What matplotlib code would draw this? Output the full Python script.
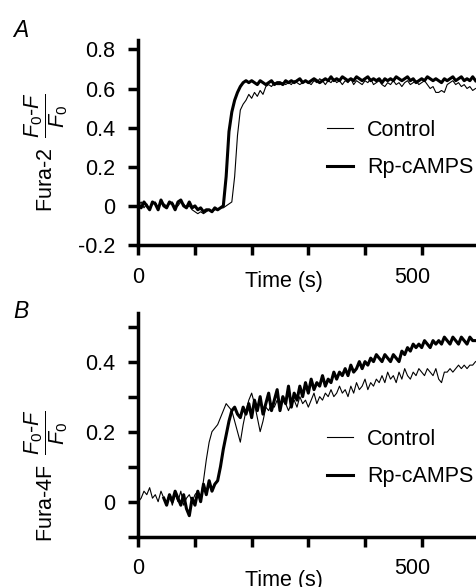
import numpy as np
import matplotlib
matplotlib.use("Agg")
import matplotlib.pyplot as plt
from matplotlib import transforms

plt.rcParams['font.family'] = ['Liberation Sans', 'DejaVu Sans']
plt.rcParams['mathtext.fontset'] = 'custom'
plt.rcParams['mathtext.rm'] = 'Liberation Sans'
plt.rcParams['mathtext.it'] = 'Liberation Sans:italic'
plt.rcParams['mathtext.bf'] = 'Liberation Sans:bold'

FS = 15.5

# ---------------- data ----------------
time_a = np.arange(0, 600, 5)
fura2_rp = [
    0.01, -0.01, 0.02, 0.00, -0.02, 0.02, 0.01, -0.02, 0.03, 0.00,
    -0.01, 0.02, 0.01, -0.02, 0.02, 0.03, 0.00, -0.01, 0.02, -0.01,
    0.00, -0.02, -0.01, -0.03, -0.02, -0.02, -0.03, -0.01, -0.02, -0.01,
    0.00, 0.15, 0.38, 0.48, 0.54, 0.58, 0.61, 0.63, 0.64, 0.63,
    0.64, 0.63, 0.62, 0.64, 0.63, 0.62, 0.63, 0.64, 0.62, 0.63,
    0.63, 0.62, 0.64, 0.63, 0.64, 0.63, 0.64, 0.65, 0.63, 0.64,
    0.63, 0.64, 0.65, 0.64, 0.63, 0.64, 0.65, 0.64, 0.66, 0.64,
    0.65, 0.64, 0.66, 0.65, 0.64, 0.65, 0.64, 0.66, 0.65, 0.64,
    0.65, 0.66, 0.64, 0.65, 0.64, 0.65, 0.63, 0.65, 0.64, 0.65,
    0.64, 0.66, 0.65, 0.64, 0.65, 0.66, 0.64, 0.65, 0.63, 0.64,
    0.65, 0.64, 0.66, 0.65, 0.64, 0.65, 0.64, 0.63, 0.65, 0.64,
    0.65, 0.66, 0.64, 0.65, 0.66, 0.64, 0.65, 0.64, 0.66, 0.64,
]
fura2_control = [
    0.00, 0.02, -0.01, 0.01, -0.02, 0.01, 0.02, -0.01, 0.02, 0.01,
    0.00, 0.01, 0.02, -0.01, 0.00, 0.02, 0.01, -0.01, 0.00, -0.02,
    -0.03, -0.04, -0.03, -0.04, -0.03, -0.02, -0.03, -0.02, -0.02, -0.01,
    -0.01, 0.00, 0.01, 0.02, 0.15, 0.36, 0.49, 0.52, 0.54, 0.57,
    0.55, 0.58, 0.56, 0.59, 0.57, 0.61, 0.62, 0.61, 0.63, 0.62,
    0.62, 0.63, 0.62, 0.63, 0.62, 0.64, 0.63, 0.62, 0.63, 0.64,
    0.63, 0.62, 0.64, 0.63, 0.65, 0.64, 0.62, 0.64, 0.63, 0.65,
    0.63, 0.64, 0.62, 0.64, 0.63, 0.65, 0.62, 0.64, 0.63, 0.62,
    0.64, 0.63, 0.65, 0.62, 0.63, 0.64, 0.62, 0.61, 0.63, 0.62,
    0.64, 0.62, 0.63, 0.61, 0.63, 0.64, 0.62, 0.63, 0.64, 0.62,
    0.63, 0.64, 0.62, 0.60, 0.61, 0.58, 0.58, 0.59, 0.58, 0.62,
    0.63, 0.64, 0.62, 0.63, 0.61, 0.62, 0.60, 0.61, 0.59, 0.60,
]

time_b_control = np.arange(0, 600, 5)
fura4f_control = [
    0.00, 0.01, 0.03, 0.02, 0.04, 0.01, 0.02, 0.00, 0.03, 0.01,
    0.00, 0.02, -0.01, 0.02, 0.00, 0.03, -0.01, 0.01, 0.02, 0.00,
    0.02, 0.03, 0.01, 0.06, 0.12, 0.17, 0.20, 0.21, 0.22, 0.24,
    0.26, 0.28, 0.27, 0.26, 0.23, 0.20, 0.17, 0.22, 0.26, 0.29,
    0.31, 0.28, 0.24, 0.20, 0.23, 0.27, 0.26, 0.28, 0.27, 0.29,
    0.27, 0.29, 0.28, 0.26, 0.28, 0.29, 0.27, 0.30, 0.28, 0.29,
    0.27, 0.29, 0.31, 0.28, 0.30, 0.29, 0.31, 0.30, 0.32, 0.30,
    0.31, 0.33, 0.31, 0.32, 0.30, 0.33, 0.31, 0.34, 0.32, 0.33,
    0.35, 0.32, 0.34, 0.33, 0.35, 0.34, 0.36, 0.34, 0.37, 0.35,
    0.36, 0.34, 0.37, 0.35, 0.38, 0.36, 0.35, 0.37, 0.36, 0.38,
    0.37, 0.36, 0.38, 0.37, 0.36, 0.38, 0.35, 0.34, 0.37, 0.37,
    0.38, 0.37, 0.38, 0.39, 0.38, 0.39, 0.38, 0.39, 0.39, 0.40,
]

time_b_rp = np.arange(45, 600, 5)
fura4f_rp = [
    0.01, -0.01, 0.02, 0.00, 0.03, 0.01, -0.01, 0.02, -0.02, -0.04,
    0.01, -0.01, 0.03, 0.00, 0.05, 0.02, 0.06, 0.03, 0.05, 0.06,
    0.10, 0.15, 0.19, 0.23, 0.26, 0.27, 0.25, 0.24, 0.27, 0.25,
    0.28, 0.24, 0.29, 0.26, 0.30, 0.25, 0.28, 0.31, 0.26, 0.29,
    0.32, 0.26, 0.30, 0.28, 0.33, 0.27, 0.31, 0.29, 0.33, 0.30,
    0.34, 0.31, 0.35, 0.32, 0.34, 0.33, 0.36, 0.33, 0.35, 0.34,
    0.37, 0.35, 0.37, 0.36, 0.38, 0.36, 0.39, 0.37, 0.38, 0.40,
    0.38, 0.40, 0.39, 0.41, 0.40, 0.42, 0.41, 0.40, 0.42, 0.41,
    0.40, 0.42, 0.41, 0.40, 0.43, 0.42, 0.44, 0.43, 0.45, 0.44,
    0.45, 0.44, 0.46, 0.45, 0.44, 0.46, 0.45, 0.46, 0.45, 0.47,
    0.46, 0.45, 0.47, 0.46, 0.45, 0.47, 0.46, 0.45, 0.47, 0.46, 0.46,
]

series_labels = ["Control", "Rp-cAMPS"]
xtick_vals = [0, 100, 200, 300, 400, 500]
xtick_labels = ["0", "", "", "", "", "500"]
ya_ticks = [-0.2, 0, 0.2, 0.4, 0.6, 0.8]
ya_labels = ["-0.2", "0", "0.2", "0.4", "0.6", "0.8"]
yb_ticks = [-0.1, 0, 0.1, 0.2, 0.3, 0.4, 0.5]
yb_labels = ["", "0", "", "0.2", "", "0.4", ""]

# ---------------- figure ----------------
W, H = 477, 587
fig = plt.figure(figsize=(W / 100, H / 100), dpi=100)

def px_axes(left, top, right, bottom):
    return fig.add_axes([left / W, 1 - bottom / H, (right - left) / W, (bottom - top) / H])

axA = px_axes(138.3, 40, 477, 245)
axB = px_axes(138.3, 313.3, 477, 536.7)

THIN, THICK = 0.8, 2.2

axA.plot(time_a, fura2_control, color='black', lw=THIN, label=series_labels[0])
axA.plot(time_a, fura2_rp, color='black', lw=THICK, label=series_labels[1])
axB.plot(time_b_control, fura4f_control, color='black', lw=THIN, label=series_labels[0])
axB.plot(time_b_rp, fura4f_rp, color='black', lw=THICK, label=series_labels[1])

axA.set_ylim(-0.2, 0.848)
axB.set_ylim(-0.1, 0.538)
axA.set_yticks(ya_ticks)
axA.set_yticklabels(ya_labels)
axB.set_yticks(yb_ticks)
axB.set_yticklabels(yb_labels)

offset = transforms.ScaledTranslation(-9 / 100, 0, fig.dpi_scale_trans)
for ax in (axA, axB):
    ax.set_xlim(0, 597.6)
    ax.set_xticks(xtick_vals)
    ax.set_xticklabels(xtick_labels)
    for s in ('top', 'right'):
        ax.spines[s].set_visible(False)
    for s in ('left', 'bottom'):
        ax.spines[s].set_linewidth(2.5)
        ax.spines[s].set_capstyle('projecting')
    ax.tick_params(axis='both', direction='out', length=7, width=2.5,
                   labelsize=FS, color='black')
    ax.tick_params(axis='y', pad=9.5)
    ax.tick_params(axis='x', pad=8.5)
    for lbl in ax.get_xticklabels():
        if lbl.get_text() == "500":
            lbl.set_transform(lbl.get_transform() + offset)
    ax.patch.set_visible(False)
    ax.legend(frameon=False, fontsize=FS, handlelength=1.2, handletextpad=0.65,
              labelspacing=0.78, borderpad=0, borderaxespad=0,
              loc='upper left',
              bbox_to_anchor=(0.557, 0.612 if ax is axA else 0.484))

axA.text(257, -0.18, "Time (s)", transform=transforms.blended_transform_factory(axA.transData, axA.transAxes),
         ha='center', va='center', fontsize=FS)
axB.text(257, -0.194, "Time (s)", transform=transforms.blended_transform_factory(axB.transData, axB.transAxes),
         ha='center', va='center', fontsize=FS)

frac = r'$\;\dfrac{F_{\mathrm{0}}\mathrm{\text{-}}F}{F_{\mathrm{0}}}$'
fig.text(70 / W, 1 - 152 / H, "Fura-2 " + frac, rotation=90, ha='right', va='center', fontsize=FS)
fig.text(70 / W, 1 - 476 / H, "Fura-4F " + frac, rotation=90, ha='right', va='center', fontsize=FS)

fig.text(13 / W, 1 - 37 / H, "A", fontsize=16.5, fontstyle='italic', ha='left', va='baseline')
fig.text(13 / W, 1 - 318 / H, "B", fontsize=16.5, fontstyle='italic', ha='left', va='baseline')

fig.savefig("out.png", dpi=100)
